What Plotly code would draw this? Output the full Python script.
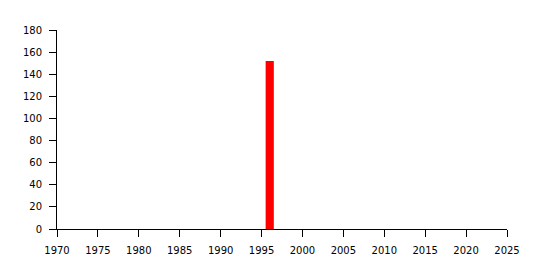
import plotly.graph_objects as go

years = [1996]
values = [152]
x_ticks = list(range(1970, 2030, 5))
y_ticks = list(range(0, 200, 20))

fig = go.Figure(go.Bar(x=years, y=values, width=1, marker=dict(color="#ff0000", line=dict(width=0))))
fig.update_layout(
    width=543, height=270,
    margin=dict(l=57, r=36, t=30, b=41),
    paper_bgcolor="white", plot_bgcolor="white",
    font=dict(family="DejaVu Sans", size=10, color="black"),
    showlegend=False,
)
fig.update_xaxes(range=[1970, 2025], tickvals=x_ticks, showgrid=False, zeroline=False,
                 showline=True, linecolor="black", linewidth=1, ticks="outside", ticklen=7,
                 tickcolor="black", ticklabelstandoff=5)
fig.update_yaxes(range=[0, 180], tickvals=y_ticks, showgrid=False, zeroline=False,
                 showline=True, linecolor="black", linewidth=1, ticks="outside", ticklen=7,
                 tickcolor="black", ticklabelstandoff=5)
fig.write_html("out.html")
